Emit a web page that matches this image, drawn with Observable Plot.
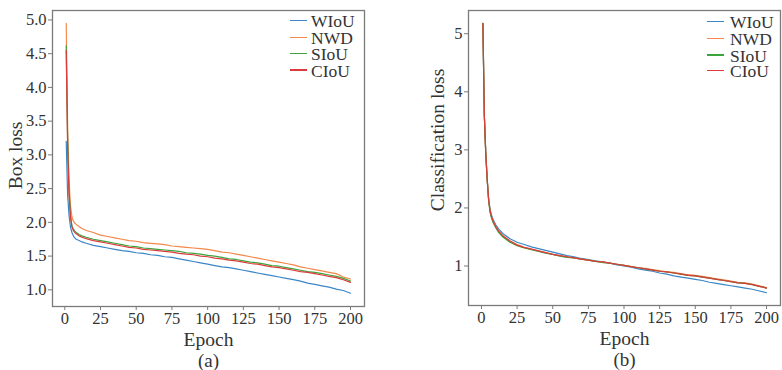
<!DOCTYPE html>
<html>
<head>
<meta charset="utf-8">
<script src="https://cdn.jsdelivr.net/npm/d3@7"></script>
<script src="https://cdn.jsdelivr.net/npm/@observablehq/plot@0.6"></script>
<style>
  html, body { margin: 0; padding: 0; background: #fff; }
  #wrap { position: relative; width: 782px; height: 370px; display: flex; font-family: "Liberation Serif", "Times New Roman", serif; color: #333; }
  #wrap svg, #wrap svg text { font-family: "Liberation Serif", "Times New Roman", serif !important; }
  .lg-line { position: absolute; height: 1.5px; width: 17px; }
  .lg-text { position: absolute; font-size: 17.5px; line-height: 16px; height: 16px; white-space: nowrap; color: #333; }
</style>
</head>
<body>
<div id="wrap"></div>
<script>
// ---------- data ----------
const epochs = [1,2,3,4,5,6,7,8,10,12,15,20,25,30,35,40,45,50,55,60,65,70,75,80,85,90,95,100,105,110,115,120,125,130,135,140,145,150,155,160,165,170,175,180,185,190,195,200];

const seriesNames = ["WIoU", "NWD", "SIoU", "CIoU"];
const seriesColors = ["#3a86c6", "#f3884a", "#3ca43c", "#db3b3b"];

// Box loss (a)
const boxWIoU = [3.20,2.40,2.10,1.93,1.85,1.80,1.77,1.75,1.73,1.71,1.69,1.66,1.64,1.62,1.60,1.58,1.57,1.55,1.54,1.52,1.51,1.49,1.48,1.46,1.44,1.42,1.40,1.38,1.36,1.34,1.33,1.31,1.29,1.27,1.25,1.23,1.21,1.19,1.17,1.15,1.13,1.10,1.08,1.06,1.04,1.01,0.99,0.95];
const boxNWD  = [4.95,3.40,2.60,2.25,2.08,2.02,1.99,1.97,1.94,1.91,1.88,1.85,1.81,1.79,1.77,1.75,1.73,1.72,1.70,1.69,1.68,1.67,1.65,1.64,1.63,1.62,1.61,1.60,1.58,1.56,1.55,1.53,1.51,1.49,1.47,1.45,1.43,1.41,1.39,1.37,1.34,1.32,1.30,1.28,1.26,1.24,1.19,1.16];
const boxSIoU = [4.62,3.20,2.45,2.10,1.95,1.90,1.87,1.85,1.82,1.80,1.78,1.75,1.73,1.71,1.69,1.67,1.65,1.64,1.62,1.61,1.60,1.59,1.58,1.57,1.55,1.54,1.53,1.51,1.50,1.48,1.46,1.45,1.43,1.41,1.40,1.38,1.36,1.35,1.33,1.31,1.29,1.27,1.26,1.24,1.22,1.20,1.17,1.13];
const boxCIoU = [4.55,3.10,2.40,2.08,1.93,1.88,1.85,1.83,1.80,1.78,1.76,1.73,1.71,1.69,1.67,1.65,1.63,1.62,1.60,1.59,1.58,1.57,1.56,1.54,1.53,1.52,1.50,1.49,1.47,1.46,1.44,1.43,1.41,1.39,1.38,1.36,1.34,1.33,1.31,1.29,1.27,1.26,1.24,1.22,1.20,1.18,1.15,1.11];

// Classification loss (b)
const clsWIoU = [5.18,3.60,2.95,2.50,2.17,1.98,1.88,1.81,1.71,1.64,1.56,1.47,1.41,1.37,1.33,1.30,1.27,1.24,1.21,1.18,1.16,1.13,1.11,1.09,1.07,1.05,1.02,1.00,0.98,0.95,0.93,0.91,0.88,0.86,0.83,0.81,0.79,0.77,0.75,0.72,0.70,0.68,0.66,0.64,0.62,0.60,0.57,0.54];
const clsNWD  = [5.18,3.60,2.95,2.50,2.15,1.95,1.85,1.78,1.68,1.60,1.52,1.43,1.37,1.32,1.29,1.26,1.23,1.20,1.18,1.16,1.14,1.12,1.10,1.08,1.07,1.05,1.03,1.01,0.99,0.97,0.96,0.94,0.92,0.90,0.89,0.87,0.85,0.84,0.82,0.80,0.78,0.76,0.74,0.72,0.71,0.69,0.66,0.63];
const clsSIoU = [5.18,3.60,2.94,2.48,2.13,1.93,1.83,1.76,1.66,1.58,1.50,1.41,1.35,1.31,1.28,1.25,1.22,1.20,1.17,1.15,1.14,1.12,1.10,1.08,1.06,1.05,1.03,1.01,0.99,0.97,0.95,0.93,0.91,0.90,0.88,0.86,0.84,0.83,0.81,0.79,0.77,0.75,0.73,0.71,0.70,0.68,0.65,0.62];
const clsCIoU = [5.18,3.60,2.95,2.50,2.15,1.95,1.85,1.78,1.68,1.60,1.52,1.43,1.36,1.32,1.29,1.26,1.23,1.20,1.18,1.16,1.14,1.12,1.10,1.08,1.07,1.05,1.03,1.01,0.99,0.97,0.95,0.93,0.91,0.90,0.88,0.86,0.84,0.83,0.81,0.79,0.77,0.75,0.73,0.71,0.70,0.68,0.65,0.62];

const xTicks = [0,25,50,75,100,125,150,175,200];
const boxTicks = [1.0,1.5,2.0,2.5,3.0,3.5,4.0,4.5,5.0];
const clsTicks = [1,2,3,4,5];

// ---------- helpers ----------
const FONT = '"Liberation Serif", "Times New Roman", serif';
const toRows = (vals) => epochs.map((e, i) => ({epoch: e, value: vals[i]}));

function panel({width, mL, mR, mB, xDomain, yDomain, yTicks, yFmt, seriesVals, yLabel, yLabelDx, yLabelDy, caption}) {
  const lines = seriesVals.map((vals, i) =>
    Plot.line(toRows(vals), {x: "epoch", y: "value", stroke: seriesColors[i], strokeWidth: 1.2}));
  return Plot.plot({
    width, height: 370,
    marginLeft: mL, marginRight: mR, marginTop: 10, marginBottom: mB,
    style: {fontFamily: FONT, fontSize: "16.5px", color: "#333", background: "#fff"},
    x: {domain: xDomain},
    y: {domain: yDomain},
    marks: [
      ...lines,
      Plot.frame({stroke: "#7a7a7a", strokeWidth: 1.3}),
      Plot.axisX({ticks: xTicks, tickSize: 4, tickPadding: 2, label: null, stroke: "#7a7a7a", fill: "#333"}),
      Plot.axisY({ticks: yTicks, tickFormat: yFmt, tickSize: 4, tickPadding: 2, label: null, stroke: "#7a7a7a", fill: "#333"}),
      Plot.text([yLabel], {text: d => d, frameAnchor: "left", textAnchor: "middle", dx: yLabelDx, dy: yLabelDy, rotate: -90, fontSize: 19.5, lineAnchor: "middle", fill: "#333"}),
      Plot.text(["Epoch"], {text: d => d, frameAnchor: "bottom", textAnchor: "middle", dy: 33.5, fontSize: 19.5, lineAnchor: "middle", fill: "#333"}),
      Plot.text([caption], {text: d => d, frameAnchor: "bottom", textAnchor: "middle", dy: 54.5, fontSize: 19, lineAnchor: "middle", fill: "#333"})
    ]
  });
}

const wrap = document.getElementById("wrap");

wrap.append(panel({
  width: 390, mL: 52, mR: 26, mB: 64,
  xDomain: [-8.6, 209.8], yDomain: [0.753, 5.14],
  yTicks: boxTicks, yFmt: d3.format(".1f"),
  seriesVals: [boxWIoU, boxNWD, boxSIoU, boxCIoU],
  yLabel: "Box loss", yLabelDx: -37, yLabelDy: -3, caption: "(a)"
}));

wrap.append(panel({
  width: 392, mL: 78, mR: 2, mB: 65,
  xDomain: [-9.1, 209.8], yDomain: [0.32, 5.40],
  yTicks: clsTicks, yFmt: d3.format("d"),
  seriesVals: [clsWIoU, clsNWD, clsSIoU, clsCIoU],
  yLabel: "Classification loss", yLabelDx: -31, yLabelDy: -18, caption: "(b)"
}));

// ---------- legends ----------
function legend(lineX, textX, rowYs) {
  seriesNames.forEach((name, i) => {
    const ln = document.createElement("div");
    ln.className = "lg-line";
    ln.style.left = lineX + "px";
    ln.style.top = (rowYs[i] - 0.75) + "px";
    ln.style.background = seriesColors[i];
    wrap.append(ln);
    const tx = document.createElement("div");
    tx.className = "lg-text";
    tx.style.left = textX + "px";
    tx.style.top = (rowYs[i] - 7.5) + "px";
    tx.textContent = name;
    wrap.append(tx);
  });
}
legend(290, 311, [20.7, 37.3, 53.6, 70]);
legend(706.7, 730, [21.7, 38.3, 55, 70.7]);
</script>
</body>
</html>
